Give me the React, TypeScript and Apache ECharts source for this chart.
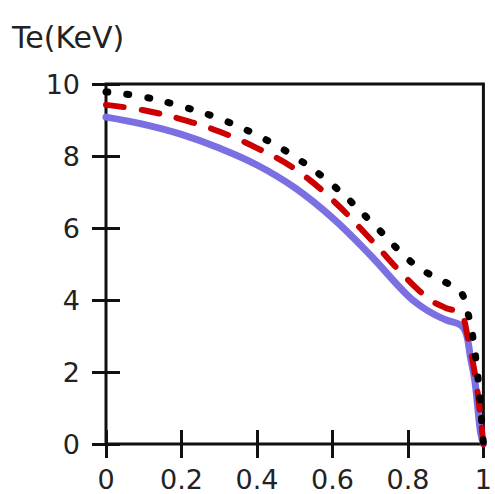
import React, { useEffect, useRef } from "react";
import * as echarts from "echarts";

// Electron temperature profiles Te(rho), three cases
const blueX = [0, 0.1, 0.2, 0.3, 0.4, 0.5, 0.6, 0.7, 0.8, 0.85, 0.9, 0.94, 0.955, 0.965, 0.977, 0.985, 0.992, 1];
const blueY = [9.08, 8.88, 8.6, 8.22, 7.75, 7.12, 6.28, 5.25, 4.12, 3.72, 3.45, 3.3, 3.05, 2.45, 1.78, 1.03, 0.35, 0];

const redX = [0, 0.1, 0.2, 0.3, 0.4, 0.5, 0.6, 0.7, 0.8, 0.86, 0.9, 0.94, 0.958, 0.97, 0.985, 1];
const redY = [9.42, 9.27, 9.02, 8.68, 8.22, 7.64, 6.78, 5.7, 4.56, 4.0, 3.78, 3.62, 3.0, 2.4, 1.4, 0];

const blackX = [0, 0.1, 0.2, 0.3, 0.4, 0.5, 0.6, 0.7, 0.8, 0.85, 0.9, 0.94, 0.958, 0.97, 0.984, 0.993, 1];
const blackY = [9.78, 9.64, 9.38, 9.04, 8.58, 7.98, 7.2, 6.2, 5.14, 4.76, 4.49, 4.22, 3.67, 3.1, 2.0, 0.94, 0];

const xTicks = [0, 0.2, 0.4, 0.6, 0.8, 1];
const yTicks = [0, 2, 4, 6, 8, 10];
const yTitle = "Te(KeV)";

const pairs = (xs: number[], ys: number[]) => xs.map((x, i) => [x, ys[i]]);

const FONT = "DejaVu Sans";

export default function App() {
  const ref = useRef<HTMLDivElement>(null);

  useEffect(() => {
    if (!ref.current) return;
    const chart = echarts.init(ref.current, null, { renderer: "svg" });

    const tickCommon = {
      show: true,
      inside: true,
      length: 14,
      lineStyle: { color: "#111", width: 3 },
    };
    const labelCommon = {
      color: "#222",
      fontSize: 27,
      fontFamily: FONT,
    };

    chart.setOption({
      animation: false,
      backgroundColor: "#fff",
      grid: {
        left: 106,
        right: 4,
        top: 84,
        bottom: 50,
        show: true,
        borderColor: "#111",
        borderWidth: 3,
        backgroundColor: "transparent",
      },
      graphic: [
        {
          type: "text",
          x: 12,
          y: 37,
          style: {
            text: yTitle,
            fontSize: 30,
            fontFamily: FONT,
            fill: "#222",
            verticalAlign: "middle",
          },
        },
      ],
      xAxis: [
        {
          type: "value",
          min: 0,
          max: 1,
          interval: 0.2,
          position: "bottom",
          axisLine: { show: false },
          axisTick: tickCommon,
          splitLine: { show: false },
          axisLabel: {
            ...labelCommon,
            margin: 22,
            formatter: (v: number) => {
              const t = xTicks.find((k) => Math.abs(k - v) < 1e-6);
              return t === undefined ? "" : String(t);
            },
          },
        },
        {
          type: "value",
          min: 0,
          max: 1,
          interval: 0.2,
          position: "top",
          axisLine: { show: false },
          axisTick: tickCommon,
          splitLine: { show: false },
          axisLabel: { show: false },
        },
      ],
      yAxis: [
        {
          type: "value",
          min: 0,
          max: 10,
          interval: 2,
          position: "left",
          axisLine: { show: false },
          axisTick: tickCommon,
          splitLine: { show: false },
          axisLabel: {
            ...labelCommon,
            margin: 26,
            formatter: (v: number) => {
              const t = yTicks.find((k) => Math.abs(k - v) < 1e-6);
              return t === undefined ? "" : String(t);
            },
          },
        },
        {
          type: "value",
          min: 0,
          max: 10,
          interval: 2,
          position: "right",
          axisLine: { show: false },
          axisTick: tickCommon,
          splitLine: { show: false },
          axisLabel: { show: false },
        },
      ],
      series: [
        {
          type: "line",
          data: pairs(blueX, blueY),
          smooth: 0.4,
          showSymbol: false,
          symbol: "none",
          lineStyle: { color: "#7a70e2", width: 7, cap: "round", join: "round" },
          z: 3,
        },
        {
          type: "line",
          data: pairs(redX, redY),
          smooth: 0.4,
          showSymbol: false,
          symbol: "none",
          lineStyle: { color: "#cc0000", width: 6, type: [18, 18], cap: "round", join: "round" },
          z: 4,
        },
        {
          type: "line",
          data: pairs(blackX, blackY),
          smooth: 0.4,
          showSymbol: false,
          symbol: "none",
          lineStyle: { color: "#000", width: 7, type: [2, 19], cap: "round", join: "round" },
          z: 5,
        },
      ],
    });

    return () => chart.dispose();
  }, []);

  return (
    <div
      ref={ref}
      style={{ position: "fixed", left: 0, top: 0, width: 495, height: 494 }}
    />
  );
}
